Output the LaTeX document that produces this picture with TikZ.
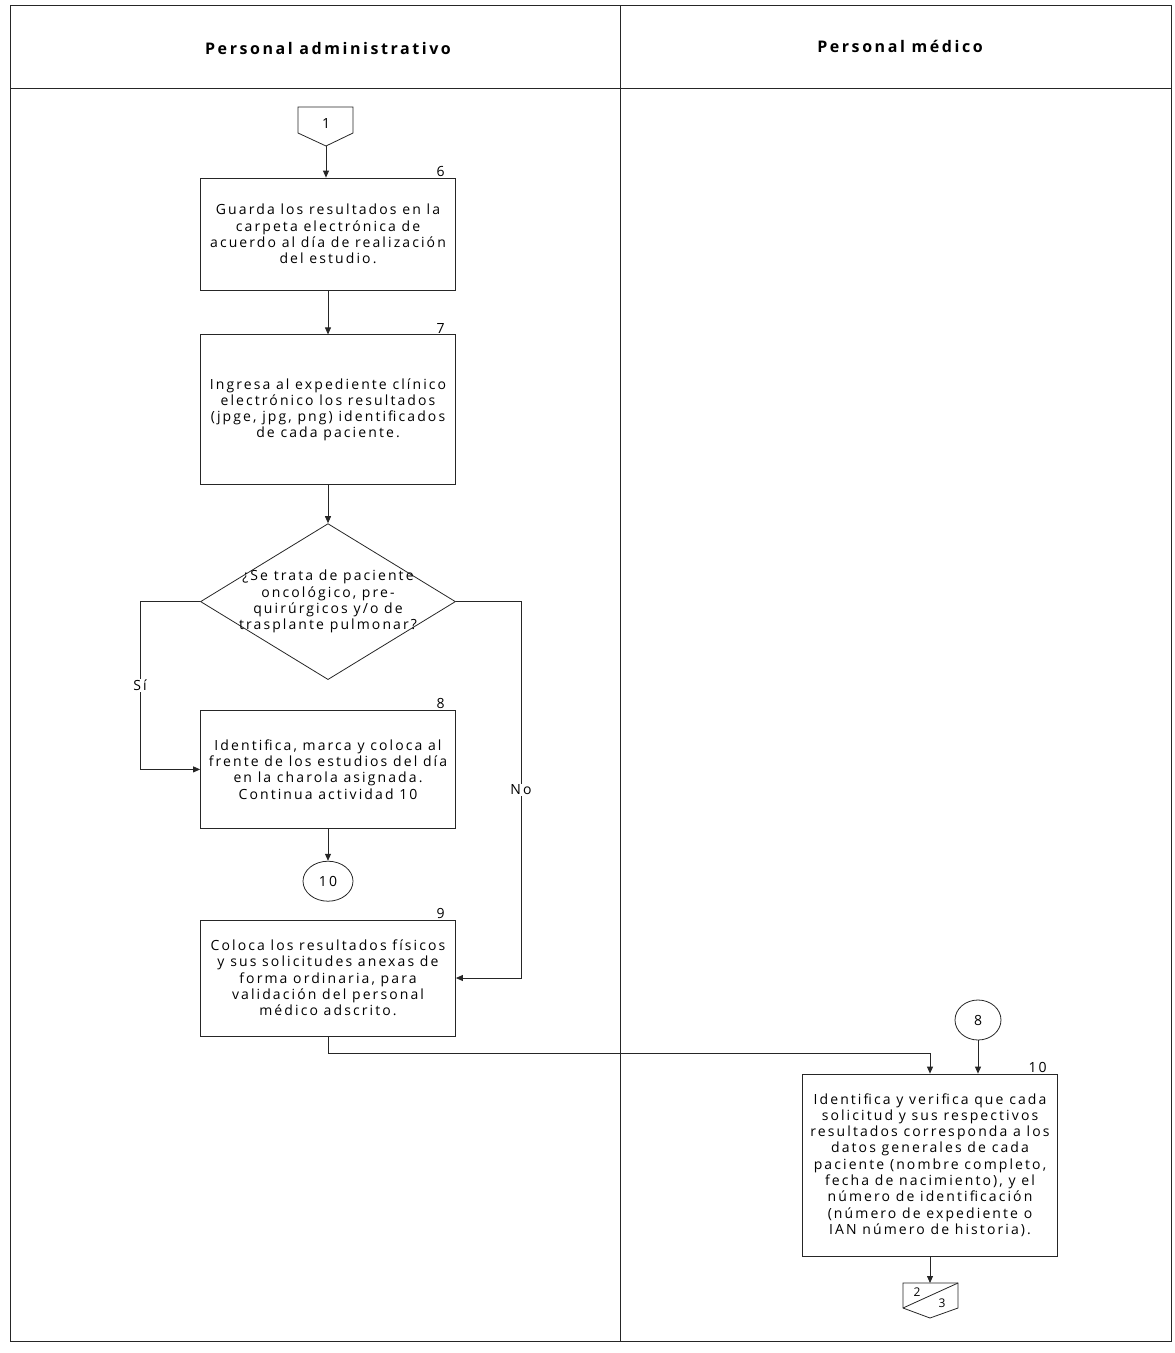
\documentclass[tikz,border=0pt]{standalone}
\usepackage{fontspec}
\setmainfont{Open Sans}
\newfontfamily\spacedff[LetterSpace=15]{Open Sans}
\newfontfamily\hdrff[LetterSpace=16]{Open Sans}
\usetikzlibrary{arrows.meta,positioning,shapes.geometric}
\newcommand{\boxfont}{\spacedff\fontsize{14}{16.3}\selectfont}
\tikzset{
  lne/.style={line width=0.8pt,draw=black!85},
  actblk/.style={lne,rectangle,minimum width=255pt,align=center,font=\boxfont,inner sep=1pt},
  decblk/.style={lne,diamond,minimum width=255pt,minimum height=156pt,inner sep=0pt},
  conblk/.style={lne,ellipse,minimum width=50pt,minimum height=40pt,font=\boxfont},
  numlbl/.style={anchor=south east,xshift=-10pt,inner sep=1pt,font=\boxfont},
  hdr/.style={font=\hdrff\fontsize{16}{18}\selectfont\bfseries},
  lbl/.style={fill=white,inner sep=1pt,font=\boxfont},
  arr/.style={lne,-{Triangle[length=7pt,width=6pt]}}
}
\begin{document}
\begin{tikzpicture}[x=1pt,y=-1pt]
  \useasboundingbox (0,0) rectangle (1175,1353);
  % lanes
  \draw[lne] (10,5) rectangle (1171,1341);
  \draw[lne] (620,5) -- (620,1341);
  \draw[lne] (10,88) -- (1171,88);
  \node[hdr] (hadm) at (328,48) {Personal administrativo};
  \node[hdr] (hmed) at (900,46) {Personal médico};

  % off-page connector 1
  \draw[lne] (298,107) -- (353,107) -- (353,133) -- (326,146) -- (298,133) -- cycle;
  \node[font=\boxfont] (pg1) at (326,123) {1};
  \coordinate (pg1tip) at (326,146);

  % lane 1
  \node[actblk,minimum height=112pt,label={[numlbl]north east:6}] (box6) at (328,234)
    {Guarda los resultados en la\\carpeta electrónica de\\acuerdo al día de realización\\del estudio.};
  \node[actblk,minimum height=150pt,below=44pt of box6,label={[numlbl]north east:7}] (box7)
    {Ingresa al expediente clínico\\electrónico los resultados\\(jpge, jpg, png) identificados\\de cada paciente.};
  \node[decblk,below=38pt of box7,
    label={[align=center,font=\boxfont]center:¿Se trata de paciente\\oncológico, pre-\\quirúrgicos y/o de\\trasplante pulmonar?}] (dec) {};
  \node[actblk,minimum height=118pt,below=30pt of dec,label={[numlbl]north east:8}] (box8)
    {Identifica, marca y coloca al\\frente de los estudios del día\\en la charola asignada.\\Continua actividad 10};
  \node[conblk,below=32pt of box8] (c10) {10};
  \node[actblk,minimum height=116pt,below=18pt of c10,label={[numlbl]north east:9}] (box9)
    {Coloca los resultados físicos\\y sus solicitudes anexas de\\forma ordinaria, para\\validación del personal\\médico adscrito.};
  \coordinate (sicorner) at (140,0 |- dec.west);
  \coordinate (nocorner) at (521,0 |- dec.east);

  % lane 2
  \node[actblk,minimum height=182pt,label={[numlbl]north east:10}] (box10) at (930,1165)
    {Identifica y verifica que cada\\solicitud y sus respectivos\\resultados corresponda a los\\datos generales de cada\\paciente (nombre completo,\\fecha de nacimiento), y el\\número de identificación\\(número de expediente o\\IAN número de historia).};
  \node[conblk,minimum width=46pt] (c8) at (978,1020) {8};

  % off-page connector 2/3
  \draw[lne] (903,1283) -- (958,1283) -- (958,1308) -- (930,1318) -- (903,1308) -- cycle;
  \draw[lne] (903,1308) -- (958,1283);
  \coordinate (pg23top) at (930,1283);
  \node[font=\fontsize{12}{12}\selectfont] (pg2) at (917,1292) {2};
  \node[font=\fontsize{12}{12}\selectfont] (pg3) at (942,1303) {3};

  \draw[arr] (pg1tip) -- (pg1tip |- box6.north);
  \draw[arr] (box6) -- (box7);
  \draw[arr] (box7) -- (dec);
  \draw[arr] (dec.west) -- (sicorner) |- node[lbl,pos=0.25] {Sí} (box8.west);
  \draw[arr] (dec.east) -- (nocorner) |- node[lbl,pos=0.25] {No} (box9.east);
  \draw[arr] (box8) -- (c10);
  \draw[arr] (box9.south) -- ++(0,17) -| (box10.north);
  \draw[arr] (c8) -- (c8 |- box10.north);
  \draw[arr] (box10.south) -- (pg23top);
\end{tikzpicture}
\end{document}
